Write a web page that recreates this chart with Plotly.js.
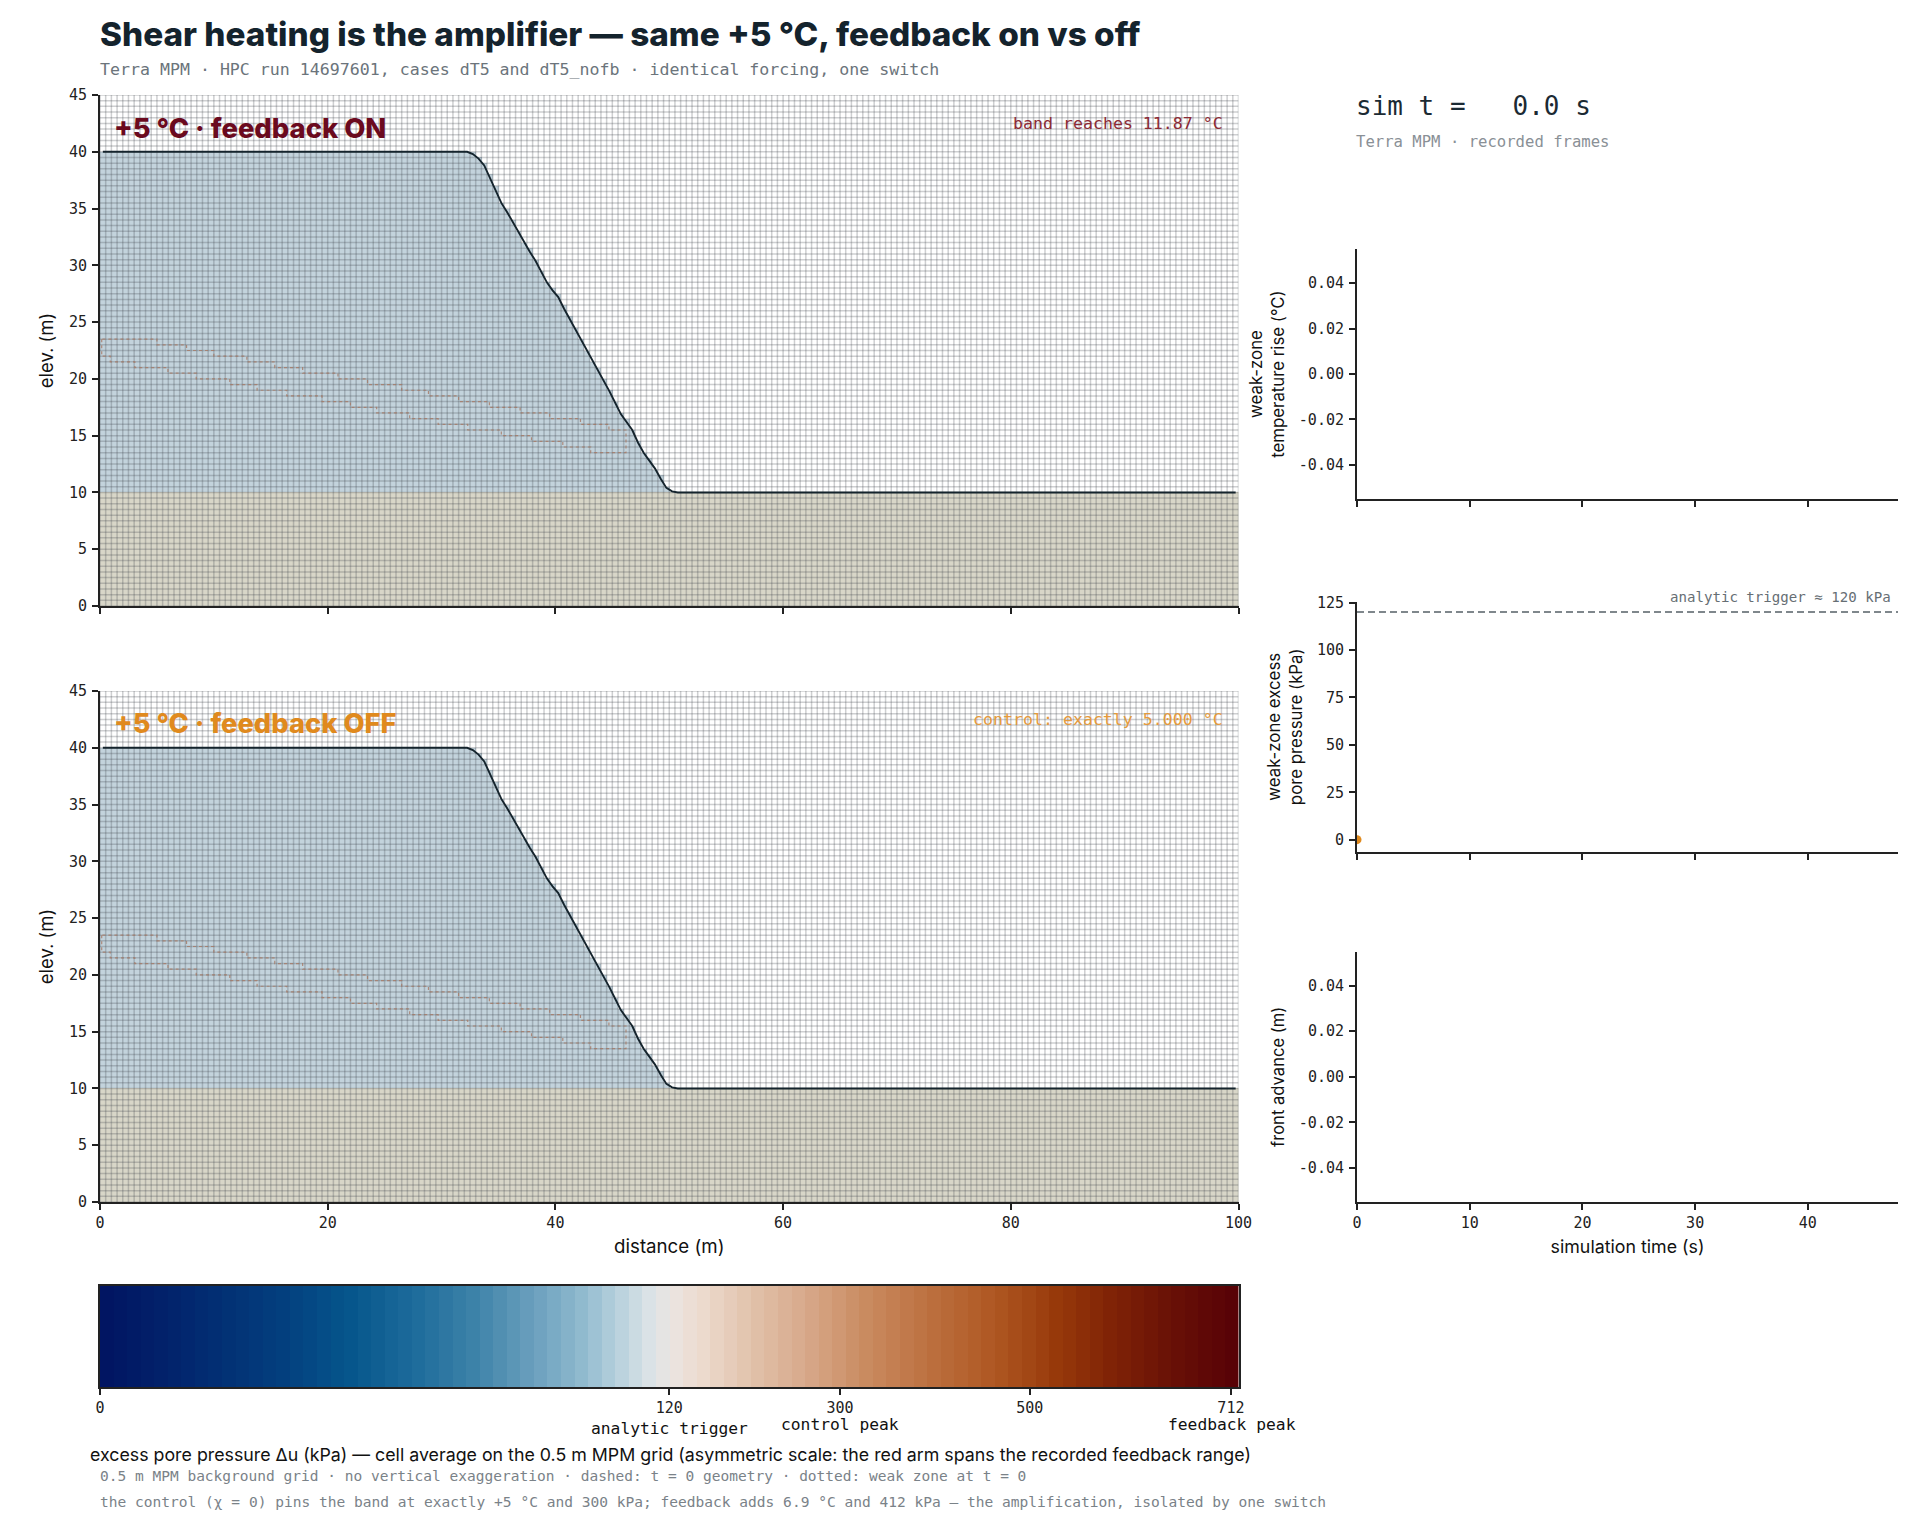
<!DOCTYPE html>
<html>
<head>
<meta charset="utf-8">
<script src="https://cdn.plot.ly/plotly-3.0.1.min.js"></script>
<style>html,body{margin:0;padding:0;background:#fff}</style>
</head>
<body>
<div id="chart" style="width:1932px;height:1530px"></div>
<script>
// slope surface, one height per 0.5 m column
var flatTopColumns = 64;
var slopeTops = [40, 39.8, 39.4, 38.8, 37.7, 36.7, 35.5, 34.7, 33.8, 32.9, 32, 31.2, 30.4, 29.5, 28.5, 27.8,
  27.2, 26.2, 25.3, 24.4, 23.5, 22.6, 21.6, 20.7, 19.8, 18.9, 17.9, 16.9, 16.2, 15.5, 14.4, 13.5, 12.8, 12.1,
  11.2, 10.4, 10.1];
var groundTop = 10;

// weak zone outline at t = 0
var weakX = [0.15, 0.15, 0.9, 3.06, 5.97, 8.45, 11.4, 13.8, 16.4, 19.5, 22, 24.3, 27.2, 29.7, 32.3, 35.25, 37.9, 40.65, 43.1, 46.2,
  46.2, 44.7, 42.2, 39.5, 36.9, 34.2, 31.5, 28.85, 26.5, 23.5, 20.9, 17.8, 15.35, 12.9, 10, 7.6, 5, 2, 0.15];
var weakY = [23.5, 22, 21.5, 21, 20.5, 20, 19.5, 19, 18.5, 18, 17.5, 17, 16.5, 16, 15.5, 15, 14.5, 14, 13.5, 15,
  15.5, 16, 16.5, 17, 17.5, 18, 18.5, 19, 19.5, 20, 20.5, 21, 21.5, 22, 22.5, 23, 23.5, 23.5, 23.5];

// time series panels, only the first recorded frame exists
var simTime = [0];
var poreFeedback = [0];
var triggerLine = [120, 120];
var triggerT = [0, 48];

var xTicksMain = [0, 20, 40, 60, 80, 100];
var yTicksMain = [0, 5, 10, 15, 20, 25, 30, 35, 40, 45];
var tTicks = [0, 10, 20, 30, 40];
var smallTicks = [-0.04, -0.02, 0, 0.02, 0.04];
var smallLabels = ['-0.04', '-0.02', '0.00', '0.02', '0.04'];
var poreTicks = [0, 25, 50, 75, 100, 125];

var cbarTicks = [0, 120, 300, 500, 712];
var cbarCentre = 120, cbarTop = 720;
var cbarColors = [
  [0, '#011461'], [0.08, '#02286f'], [0.16, '#033f7e'], [0.22, '#06568c'], [0.28, '#1f6d9c'], [0.33, '#3e83a9'],
  [0.38, '#6a9fbd'], [0.42, '#8db8cd'], [0.45, '#b1cddb'], [0.48, '#d8e2e6'], [0.5, '#ebe5e2'], [0.53, '#ecdacd'],
  [0.57, '#e2c3ac'], [0.62, '#d7a88a'], [0.67, '#ca8c62'], [0.73, '#bc6f3e'], [0.79, '#ad5520'], [0.84, '#97390a'],
  [0.89, '#7f2206'], [0.94, '#691106'], [1, '#560006']
];

var cell = 0.5, nx = 200, ny = 90;
var INK = '#222', MONO = '"DejaVu Sans Mono", monospace', SANS = 'Inter, sans-serif';

function px(v) { return v / 1932; }
function py(v) { return 1 - v / 1530; }

var surfaceX = [], surfaceY = [];
for (var i = 0; i < nx; i++) {
  surfaceX.push((i + 0.5) * cell);
  if (i < flatTopColumns) surfaceY.push(40);
  else if (i - flatTopColumns < slopeTops.length) surfaceY.push(slopeTops[i - flatTopColumns]);
  else surfaceY.push(groundTop);
}
var rowY = [], material = [];
for (var j = 0; j < ny; j++) {
  var yc = (j + 0.5) * cell, row = [];
  rowY.push(yc);
  for (var k = 0; k < nx; k++) {
    if (yc < groundTop) row.push(1);
    else if (yc < surfaceY[k] + 0.1) row.push(0);
    else row.push(null);
  }
  material.push(row);
}
var gridX = [], gridY = [];
for (var a = 0; a <= nx; a++) { gridX.push(a * cell, a * cell, null); gridY.push(0, 45, null); }
for (var b = 0; b <= ny; b++) { gridX.push(0, 100, null); gridY.push(b * cell, b * cell, null); }

function slopePanel(xa, ya) {
  return [
    { type: 'heatmap', x: surfaceX, y: rowY, z: material, zmin: 0, zmax: 1, showscale: false, hoverinfo: 'skip',
      colorscale: [[0, '#c3d3dc'], [1, '#d8d6c8']], xaxis: xa, yaxis: ya },
    { type: 'scatter', mode: 'lines', x: gridX, y: gridY, hoverinfo: 'skip', connectgaps: false,
      line: { color: 'rgba(60,65,70,0.25)', width: 1.5 }, xaxis: xa, yaxis: ya },
    { type: 'scatter', mode: 'lines', x: weakX, y: weakY, hoverinfo: 'skip',
      line: { color: 'rgba(165,120,100,0.8)', width: 1.2, dash: 'dot', shape: 'hv' }, xaxis: xa, yaxis: ya },
    { type: 'scatter', mode: 'lines', x: surfaceX, y: surfaceY, hoverinfo: 'skip',
      line: { color: '#15242d', width: 1.9 }, xaxis: xa, yaxis: ya }
  ];
}

// colour bar position, two linear arms around the trigger
function cbarPos(v) {
  if (v <= cbarCentre) return 0.5 * v / cbarCentre;
  return 0.5 + 0.5 * (v - cbarCentre) / (cbarTop - cbarCentre);
}
var cbarX = [], cbarZ = [];
for (var c = 0; c < 84; c++) { cbarX.push((c + 0.5) / 84); cbarZ.push((c + 0.5) / 84); }

var data = slopePanel('x', 'y').concat(slopePanel('x2', 'y2'));
data.push({ type: 'scatter', mode: 'lines', x: triggerT, y: triggerLine, hoverinfo: 'skip',
  line: { color: '#7f878c', width: 2, dash: '7px,4px' }, xaxis: 'x4', yaxis: 'y4' });
data.push({ type: 'scatter', mode: 'markers', x: simTime, y: poreFeedback, hoverinfo: 'skip',
  marker: { color: '#e08a1e', size: 9 }, xaxis: 'x4', yaxis: 'y4' });
data.push({ type: 'scatter', mode: 'lines', x: [], y: [], xaxis: 'x3', yaxis: 'y3' });
data.push({ type: 'scatter', mode: 'lines', x: [], y: [], xaxis: 'x5', yaxis: 'y5' });
data.push({ type: 'heatmap', x: cbarX, y: [0], z: [cbarZ], zmin: 0, zmax: 1, showscale: false, hoverinfo: 'skip',
  colorscale: cbarColors, xaxis: 'x6', yaxis: 'y6' });

function axis(extra) {
  var o = { showline: true, linecolor: INK, linewidth: 2, ticks: 'outside', ticklen: 6, tickwidth: 1.8, tickcolor: INK,
    showgrid: false, zeroline: false, fixedrange: true, tickmode: 'array', layer: 'above traces', ticklabelstandoff: 2,
    tickfont: { family: MONO, size: 15, color: INK } };
  for (var key in extra) o[key] = extra[key];
  return o;
}
function yTitle(text, standoff, size) {
  return { text: text, standoff: standoff, font: { family: SANS, size: size, color: '#111' } };
}
function note(text, x, y, size, color, anchor, fam, weight) {
  return { text: text, x: px(x), y: py(y), xref: 'paper', yref: 'paper', xanchor: anchor || 'left', yanchor: 'middle',
    showarrow: false, borderpad: 0,
    font: { family: fam || MONO, size: size, color: color, weight: weight || 400 } };
}

var mainX = [px(100), px(1238.5)];
var rightX = [px(1357), px(1898)];
var layout = {
  width: 1932, height: 1530, margin: { l: 0, r: 0, t: 0, b: 0 }, showlegend: false,
  paper_bgcolor: '#fff', plot_bgcolor: '#fff',
  xaxis: axis({ domain: mainX, range: [0, 100], tickvals: xTicksMain, showticklabels: false, anchor: 'y' }),
  yaxis: axis({ domain: [py(606), py(95)], range: [0, 45], tickvals: yTicksMain, anchor: 'x', title: yTitle('elev. (m)', 10, 18.5) }),
  xaxis2: axis({ domain: mainX, range: [0, 100], tickvals: xTicksMain, anchor: 'y2', ticklabelstandoff: 0,
    title: { text: 'distance (m)', standoff: 9, font: { family: SANS, size: 18.7, color: '#111' } } }),
  yaxis2: axis({ domain: [py(1202), py(691)], range: [0, 45], tickvals: yTicksMain, anchor: 'x2', title: yTitle('elev. (m)', 10, 18.5) }),
  xaxis3: axis({ domain: rightX, range: [0, 48], tickvals: tTicks, showticklabels: false, anchor: 'y3' }),
  yaxis3: axis({ domain: [py(499), py(249)], range: [-0.055, 0.055], tickvals: smallTicks, ticktext: smallLabels, anchor: 'x3',
    title: yTitle('weak-zone<br>temperature rise (°C)', 10, 16.8) }),
  xaxis4: axis({ domain: rightX, range: [0, 48], tickvals: tTicks, showticklabels: false, anchor: 'y4' }),
  yaxis4: axis({ domain: [py(852), py(601.5)], range: [-6.5, 125.6], tickvals: poreTicks, anchor: 'x4',
    title: yTitle('weak-zone excess<br>pore pressure (kPa)', 10, 16.8) }),
  xaxis5: axis({ domain: rightX, range: [0, 48], tickvals: tTicks, anchor: 'y5', ticklabelstandoff: 0,
    title: { text: 'simulation time (s)', standoff: 10, font: { family: SANS, size: 17.8, color: '#111' } } }),
  yaxis5: axis({ domain: [py(1202), py(951.5)], range: [-0.055, 0.055], tickvals: smallTicks, ticktext: smallLabels, anchor: 'x5',
    title: yTitle('front advance (m)', 10, 16.6) }),
  xaxis6: axis({ domain: mainX, range: [0, 1], tickvals: cbarTicks.map(cbarPos), ticktext: cbarTicks.map(String),
    anchor: 'y6', mirror: true, ticklabelstandoff: 0 }),
  yaxis6: axis({ domain: [py(1387), py(1286)], range: [-0.5, 0.5], showticklabels: false, ticks: '', tickvals: [], anchor: 'x6', mirror: true }),
  annotations: [
    note('Shear heating is the amplifier — same +5 °C, feedback on vs off', 99, 33.5, 33.3, '#14232d', 'left', SANS, 800),
    note('Terra MPM · HPC run 14697601, cases dT5 and dT5_nofb · identical forcing, one switch', 99, 70, 16.6, '#6b747b'),
    note('+5 °C · feedback ON', 113, 128, 27.4, '#6b0a1e', 'left', SANS, 800),
    note('band reaches 11.87 °C', 1224, 123, 16.6, '#8c2a35', 'right'),
    note('+5 °C · feedback OFF', 113, 723.5, 27.3, '#e08a1e', 'left', SANS, 800),
    note('control: exactly 5.000 °C', 1224, 719, 16.6, '#e59a3c', 'right'),
    note('sim\u00A0t\u00A0=\u00A0\u00A0\u00A00.0\u00A0s', 1355, 106, 26, '#1b2a33'),
    note('Terra MPM · recorded frames', 1355, 142, 15.6, '#8a9096'),
    note('analytic trigger ≈ 120 kPa', 1892, 597, 14.1, '#666e74', 'right'),
    note('analytic trigger', 669, 1428.5, 16.3, '#111', 'center'),
    note('control peak', 840, 1424.5, 16.3, '#111', 'center'),
    note('feedback peak', 1231.5, 1424.5, 16.3, '#111', 'center'),
    note('excess pore pressure Δu (kPa) — cell average on the 0.5 m MPM grid (asymmetric scale: the red arm spans the recorded feedback range)',
      670, 1454, 17.8, '#111', 'center', SANS),
    note('0.5 m MPM background grid · no vertical exaggeration · dashed: t = 0 geometry · dotted: weak zone at t = 0', 99, 1476, 14.53, '#7a8288'),
    note('the control (χ = 0) pins the band at exactly +5 °C and 300 kPa; feedback adds 6.9 °C and 412 kPa — the amplification, isolated by one switch', 99, 1501.5, 14.55, '#7a8288')
  ]
};

Plotly.newPlot('chart', data, layout, { displayModeBar: false, responsive: false });
</script>
</body>
</html>
